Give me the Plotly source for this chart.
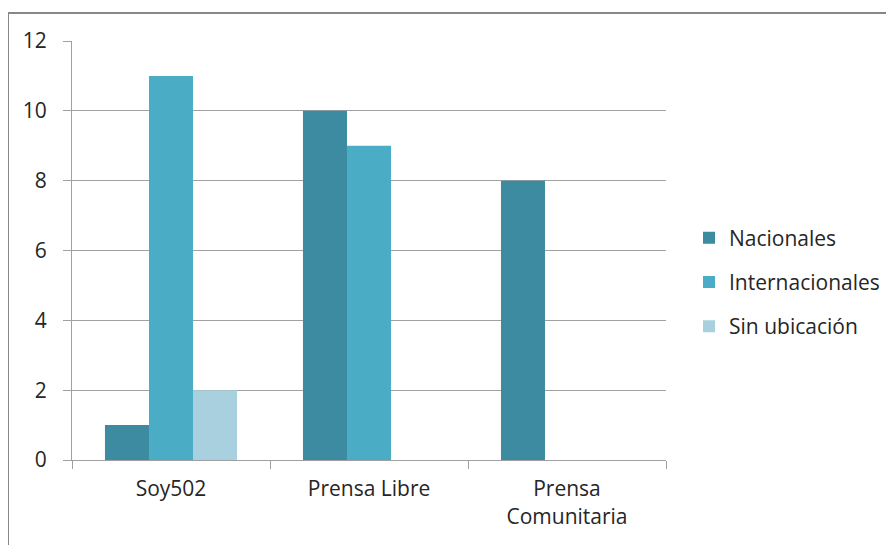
import plotly.graph_objects as go

categories = ["Soy502", "Prensa Libre", "Prensa<br>Comunitaria"]
nacionales = [1, 10, 8]
internacionales = [11, 9, 0]
sin_ubicacion = [2, 0, 0]
series_names = ["Nacionales", "Internacionales", "Sin ubicación"]
series_colors = ["#3C8BA0", "#4BACC6", "#A9D0DE"]
y_ticks = [0, 2, 4, 6, 8, 10, 12]

OFF = 8  # page body margin
W, H = 894 - OFF, 545 - OFF
L, R, T, B = 72 - OFF, 666 - OFF, 41 - OFF, 460 - OFF

fig = go.Figure()
for i, (name, vals, col) in enumerate(zip(series_names, [nacionales, internacionales, sin_ubicacion], series_colors)):
    fig.add_trace(go.Bar(x=categories, y=vals, name=name, marker=dict(color=col, line=dict(width=0)),
                         legendgroup=str(i)))

def px(x):
    return (x - OFF - L) / (R - L)

def py(y):
    return (B - (y - OFF)) / (B - T)

fig.add_shape(type="line", xref="paper", yref="paper", x0=px(8), x1=px(900), y0=py(13), y1=py(13),
              line=dict(color="#878787", width=2))
fig.add_shape(type="line", xref="paper", yref="paper", x0=px(8), x1=px(8), y0=py(13), y1=py(560),
              line=dict(color="#878787", width=2))

fig.update_layout(
    width=W, height=H,
    margin=dict(l=L, r=W - R, t=T, b=H - B, pad=0, autoexpand=False),
    paper_bgcolor="white", plot_bgcolor="white",
    barmode="group", bargap=0.333, bargroupgap=0,
    font=dict(family="Open Sans", size=21, color="#262626"),
    legend=dict(x=px(689), y=py(282), xanchor="left", yanchor="middle", tracegroupgap=14,
                traceorder="grouped", font=dict(size=21), itemwidth=30),
    showlegend=True,
)
fig.update_xaxes(showline=True, linecolor="#A0A0A0", linewidth=1, ticks="outside", tickson="boundaries",
                 ticklen=8, tickcolor="#A0A0A0", showgrid=False, tickfont=dict(size=21),
                 ticklabelstandoff=10)
fig.update_yaxes(range=[0, 12], tickvals=y_ticks, showline=True, linecolor="#A0A0A0", linewidth=1,
                 ticks="outside", ticklen=8, tickcolor="#A0A0A0", showgrid=True, gridcolor="#A0A0A0",
                 gridwidth=1, zeroline=False, tickfont=dict(size=21), ticklabelstandoff=12)

fig.write_html("out.html")
